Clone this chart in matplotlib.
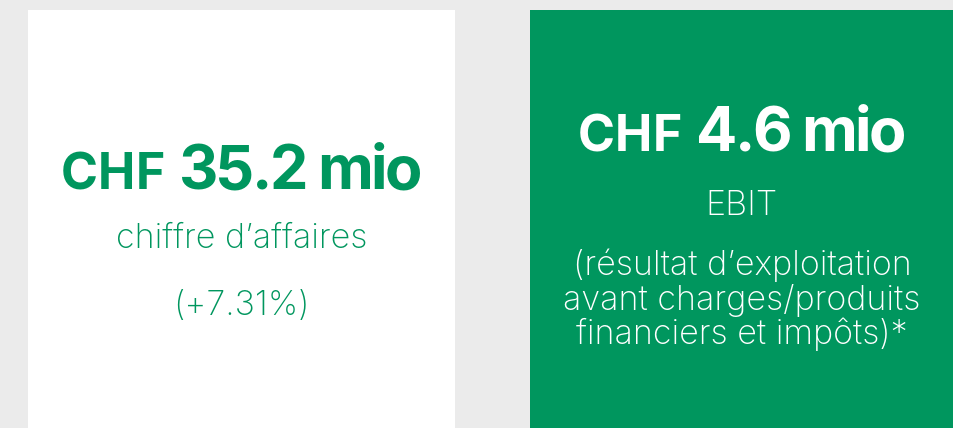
import matplotlib.pyplot as plt
from matplotlib.patches import Rectangle
from matplotlib.font_manager import FontProperties, findfont, get_font

# card contents
currency = ["CHF", "CHF"]
amounts = ["35.2 mio", "4.6 mio"]
captions = ["chiffre d\u2019affaires", "EBIT"]
notes = [["(+7.31%)"],
         ["(r\u00e9sultat d\u2019exploitation", "avant charges/produits",
          "financiers et imp\u00f4ts)*"]]

green = "#00965e"
bg = "#ebebeb"
fam = "Inter"

W, H = 954, 428
fig = plt.figure(figsize=(W / 100, H / 100), dpi=100, facecolor=bg)
ax = fig.add_axes([0, 0, 1, 1])
ax.set_xlim(0, W)
ax.set_ylim(H, 0)
ax.axis("off")


def advances(s, size, weight="bold", track=0.0):
    # per-character advance widths in pixels (dpi 100)
    font = get_font(findfont(FontProperties(family=fam, weight=weight)))
    font.set_size(size, 100)
    out = []
    for c in s:
        g = font.load_char(ord(c))
        out.append(g.linearHoriAdvance / 65536 + track)
    return out


def draw_tracked(x, y, s, size, color, track):
    adv = advances(s, size, track=track)
    for c, a in zip(s, adv):
        ax.text(x, y, c, fontsize=size, fontweight="bold", family=fam,
                color=color, ha="left", va="baseline")
        x += a
    return x


cards = [(28, 455, "white", green), (530, 954, green, "white")]
head_y = [189, 151]
cur_size, amt_size = 36, 44
gap = 14
track = -2.6

for i, (x0, x1, face, fg) in enumerate(cards):
    ax.add_patch(Rectangle((x0, 10), x1 - x0, H, facecolor=face, edgecolor="none"))
    cx = (x0 + x1) / 2
    w1 = sum(advances(currency[i], cur_size))
    w2 = sum(advances(amounts[i], amt_size, track=track)) - track
    start = cx - (w1 + gap + w2) / 2
    draw_tracked(start, head_y[i], currency[i], cur_size, fg, 0)
    draw_tracked(start + w1 + gap, head_y[i], amounts[i], amt_size, fg, track)

sub_size = 24.5
cap_y = [248, 215]
note_y = [[315], [275, 310, 344]]
for i, (x0, x1, face, fg) in enumerate(cards):
    cx = (x0 + x1) / 2
    ax.text(cx, cap_y[i], captions[i], fontsize=sub_size, fontweight="light",
            family=fam, color=fg, ha="center", va="baseline")
    for line, y in zip(notes[i], note_y[i]):
        ax.text(cx, y, line, fontsize=sub_size, fontweight="light",
                family=fam, color=fg, ha="center", va="baseline")

fig.savefig("out.png", dpi=100, facecolor=bg)
